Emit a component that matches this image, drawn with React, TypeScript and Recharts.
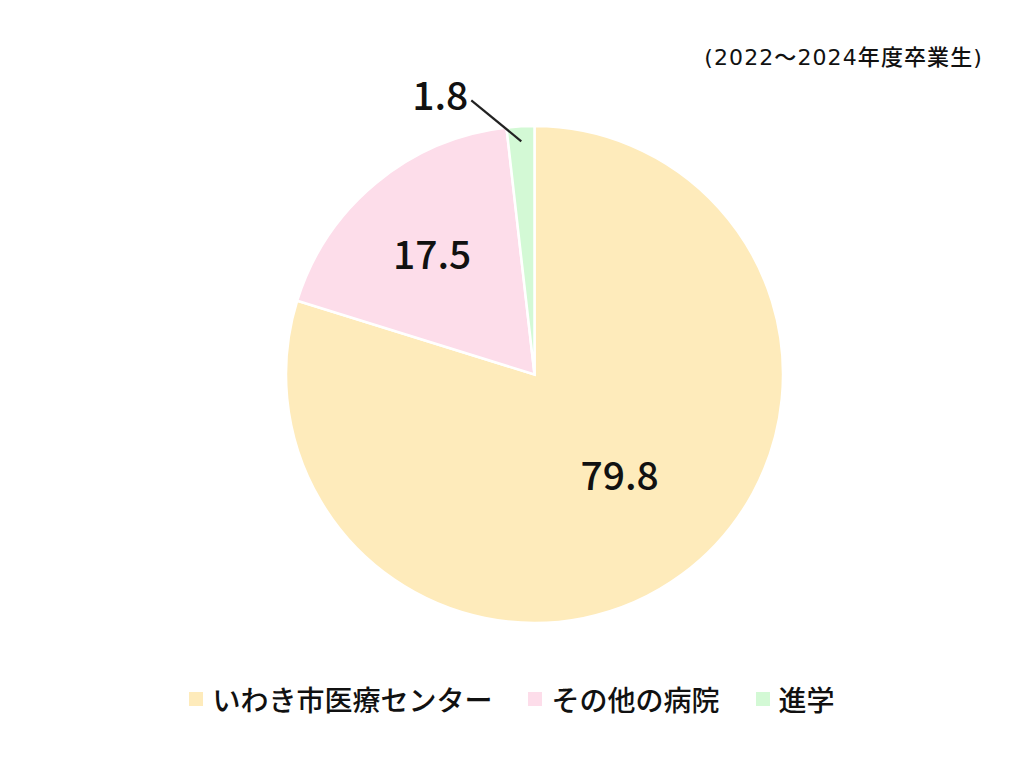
import React from 'react';
import { PieChart, Pie, Cell } from 'recharts';

// ---- data ----
const categories = ['いわき市医療センター', 'その他の病院', '進学'];
const values = [79.8, 17.5, 1.8];
const colors = ['#FEEBBB', '#FDDDEA', '#D3F9D5'];
const titleText = '(2022～2024年度卒業生)';
// In the reference the pink sector also covers the share of the circle not taken by the labelled values
const uncoveredShare = 0.9;

type Entry = { name: string; value: number; label: number; color: string };

const pieData: Entry[] = [
  { name: categories[0], value: values[0], label: values[0], color: colors[0] },
  { name: categories[1], value: values[1] + uncoveredShare, label: values[1], color: colors[1] },
  { name: categories[2], value: values[2], label: values[2], color: colors[2] },
];

// ---- style ----
const W = 1024;
const H = 768;
const CX = 534.5;
const CY = 374.5;
const R = 248.5;
const RAD = Math.PI / 180;
const NUM_FONT = '"Noto Sans CJK JP", "Noto Sans", sans-serif';
const JP_FONT = '"Noto Sans CJK JP", "Noto Sans", sans-serif';
const TEXT_COLOR = '#111111';
const insideRatio = [0.53, 0.64];
const insideNudge = [
  [7, -8],
  [-1, 0],
];

const renderLabel = (props: any) => {
  const { cx, cy, midAngle, outerRadius, index } = props;
  const entry = pieData[index];
  if (!entry) return <g key={`l-${index}`} />;
  const cos = Math.cos(-midAngle * RAD);
  const sin = Math.sin(-midAngle * RAD);
  if (index === 2) {
    const r0 = outerRadius * 0.94;
    const x0 = cx + r0 * cos;
    const y0 = cy + r0 * sin;
    const x1 = x0 - 50;
    const y1 = y0 - 41;
    return (
      <g key={`l-${index}`}>
        <line x1={x0} y1={y0} x2={x1} y2={y1} stroke="#222" strokeWidth={2.2} />
        <text
          x={x1 - 3}
          y={y1 - 7}
          textAnchor="end"
          dominantBaseline="central"
          fontSize={39}
          fontWeight={500}
          fontFamily={NUM_FONT}
          fill={TEXT_COLOR}
        >
          {entry.label}
        </text>
      </g>
    );
  }
  const r = outerRadius * insideRatio[index];
  return (
    <text
      key={`l-${index}`}
      x={cx + r * cos + insideNudge[index][0]}
      y={cy + r * sin + insideNudge[index][1]}
      textAnchor="middle"
      dominantBaseline="central"
      fontSize={39}
      fontWeight={500}
      fontFamily={NUM_FONT}
      fill={TEXT_COLOR}
    >
      {entry.label}
    </text>
  );
};

export default function App() {
  return (
    <div
      style={{
        position: 'fixed',
        left: 0,
        top: 0,
        width: W,
        height: H,
        background: '#ffffff',
        overflow: 'hidden',
      }}
    >
      <div
        style={{
          position: 'absolute',
          right: 41,
          top: 46,
          fontSize: 22,
          lineHeight: '24px',
          fontWeight: 500,
          letterSpacing: 1.1,
          fontFamily: '"DejaVu Sans", "Noto Sans CJK JP", sans-serif',
          color: TEXT_COLOR,
          whiteSpace: 'nowrap',
        }}
      >
        {titleText}
      </div>
      <PieChart width={W} height={H} margin={{ top: 0, right: 0, bottom: 0, left: 0 }}>
        <Pie
          data={pieData}
          dataKey="value"
          nameKey="name"
          cx={CX}
          cy={CY}
          outerRadius={R}
          startAngle={90}
          endAngle={-270}
          label={renderLabel}
          labelLine={false}
          isAnimationActive={false}
        >
          {pieData.map((d, i) => (
            <Cell key={`c-${i}`} fill={d.color} stroke="#ffffff" strokeWidth={2.5} />
          ))}
        </Pie>
      </PieChart>
      <div
        style={{
          position: 'absolute',
          left: 0,
          top: 685,
          width: W,
          display: 'flex',
          justifyContent: 'center',
          alignItems: 'center',
          gap: 36,
          fontFamily: JP_FONT,
          fontSize: 28,
          lineHeight: '28px',
          fontWeight: 500,
          color: TEXT_COLOR,
        }}
      >
        {categories.map((c, i) => (
          <div key={c} style={{ display: 'flex', alignItems: 'center' }}>
            <span
              style={{
                display: 'inline-block',
                width: 14,
                height: 14,
                background: colors[i],
                marginRight: 9,
              }}
            />
            <span>{c}</span>
          </div>
        ))}
      </div>
    </div>
  );
}
